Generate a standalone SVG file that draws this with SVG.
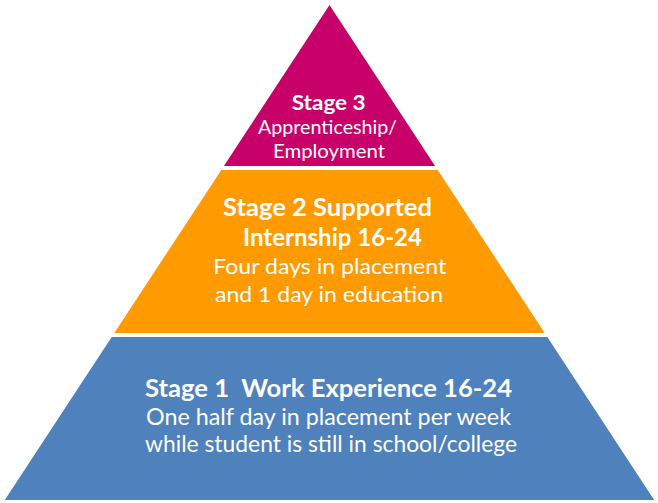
<svg xmlns="http://www.w3.org/2000/svg" width="658" height="503" viewBox="0 0 658 503">
<style>
.t{font-family:Lato,"Open Sans","Liberation Sans",sans-serif;fill:#fff;text-anchor:middle}
.b{font-weight:bold}
</style>
<rect width="658" height="503" fill="#fff"/>
<g id="stage3">
<polygon points="329.5,5 435.1,166 223.9,166" fill="#C8006A"/>
<text class="t b" x="328.7" y="110" font-size="21" textLength="74" lengthAdjust="spacingAndGlyphs">Stage 3</text>
<text class="t" x="327.5" y="134" font-size="19" textLength="139" lengthAdjust="spacingAndGlyphs">Apprenticeship/</text>
<text class="t" x="329" y="158" font-size="19" textLength="112" lengthAdjust="spacingAndGlyphs">Employment</text>
</g>
<g id="stage2">
<polygon points="221.3,170 437.7,170 544.7,333 114.3,333" fill="#FF9A00"/>
<text class="t b" x="327.5" y="216" font-size="24.5" textLength="209" lengthAdjust="spacingAndGlyphs">Stage 2 Supported</text>
<text class="t b" x="332.5" y="246" font-size="24.5" textLength="179" lengthAdjust="spacingAndGlyphs">Internship 16-24</text>
<text class="t" x="329.7" y="274" font-size="22" textLength="233" lengthAdjust="spacingAndGlyphs">Four days in placement</text>
<text class="t" x="329" y="302" font-size="22" textLength="228" lengthAdjust="spacingAndGlyphs">and 1 day in education</text>
</g>
<g id="stage1">
<polygon points="111.7,337 547.3,337 654.2,500 4.8,500" fill="#4F81BD"/>
<text class="t b" x="328.5" y="397" font-size="24" xml:space="preserve" textLength="367" lengthAdjust="spacingAndGlyphs">Stage 1  Work Experience 16-24</text>
<text class="t" x="328.5" y="425" font-size="22.5" textLength="365" lengthAdjust="spacingAndGlyphs">One half day in placement per week</text>
<text class="t" x="331" y="452" font-size="22.5" textLength="372" lengthAdjust="spacingAndGlyphs">while student is still in school/college</text>
</g>
</svg>
